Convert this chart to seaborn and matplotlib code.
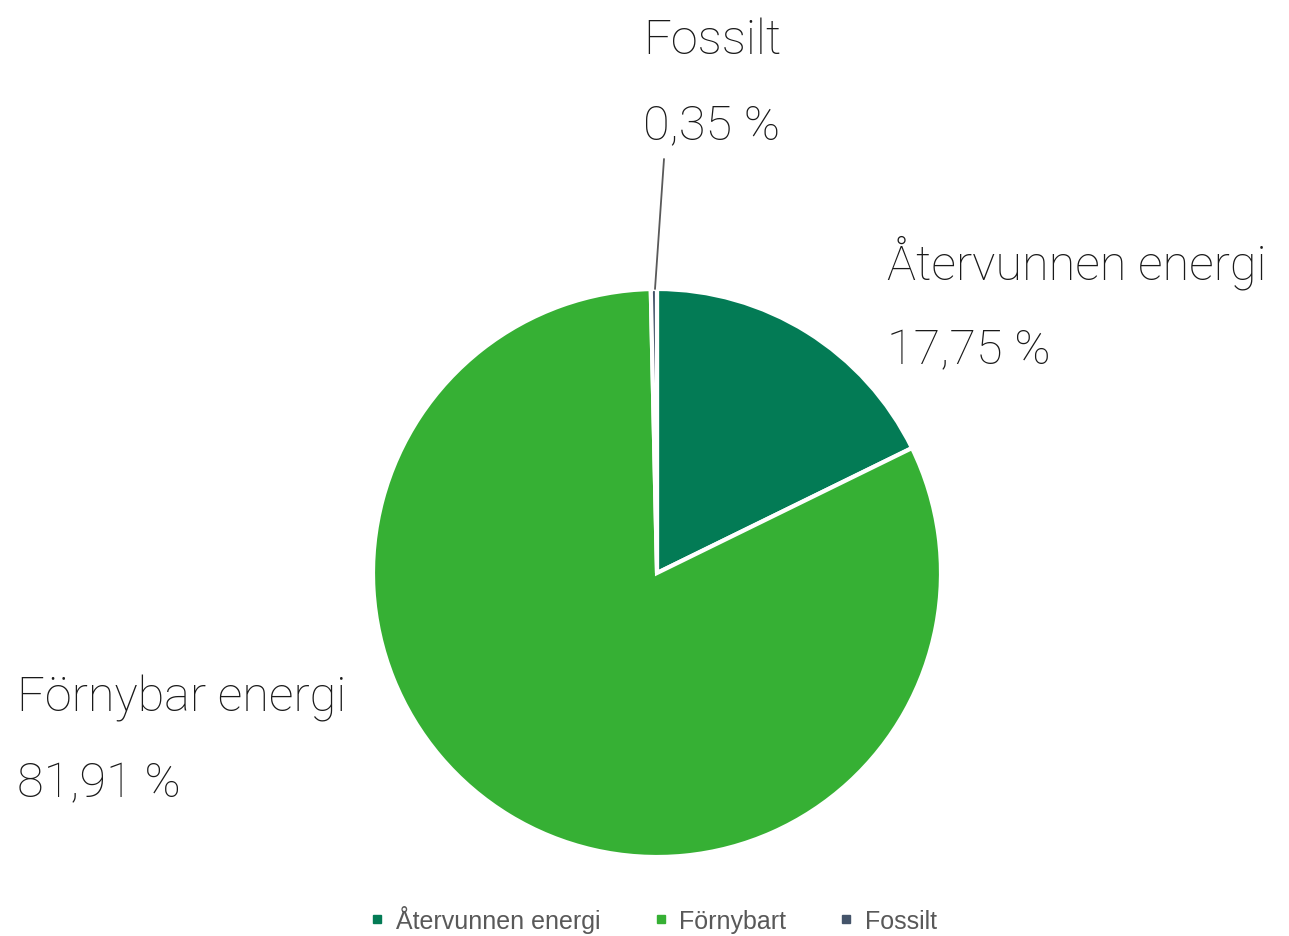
import matplotlib
matplotlib.use("Agg")
import matplotlib.pyplot as plt
from matplotlib.lines import Line2D
import seaborn as sns

categories = ["Återvunnen energi", "Förnybar energi", "Fossilt"]
legend_labels = ["Återvunnen energi", "Förnybart", "Fossilt"]
values = [17.75, 81.91, 0.35]
colors = ["#037B55", "#36B034", "#44546A"]

sns.set_theme(style="white")
plt.rcParams['font.family'] = ['Roboto', 'DejaVu Sans']

W, H = 1289, 937
fig = plt.figure(figsize=(W / 100, H / 100), dpi=100)
ax = fig.add_axes([0, 0, 1, 1])
cx, cy, R = 657, 574, 284

def px(x, y):
    return ((x - cx) / R, (H - y - (H - cy)) / R)

ax.pie(values, colors=colors, startangle=90, counterclock=False, radius=1,
       wedgeprops=dict(edgecolor="white", linewidth=3))
ax.set_xlim(-cx / R, (W - cx) / R)
ax.set_ylim(-(H - cy) / R, cy / R)
ax.set_aspect("auto")
ax.axis("off")

def fmt(v):
    return f"{v:.2f}".replace(".", ",") + " %"

label_pos = [(887, 279), (17, 712), (643, 54)]
for name, v, (x, y) in zip(categories, values, label_pos):
    tx, ty = px(x, y)
    ax.text(tx, ty, name, fontsize=35, color="#1a1a1a", ha="left", va="baseline",
            fontweight="light")
    tx2, ty2 = px(x, y + 85)
    ax.text(tx2, ty2, fmt(v), fontsize=35, color="#1a1a1a", ha="left", va="baseline",
            fontweight="light", fontstretch="condensed")

x0, y0 = px(664, 160)
x1, y1 = px(655, 290)
ax.plot([x0, x1], [y0, y1], color="#595959", lw=1.3)

handles = [Line2D([0], [0], marker="s", linestyle="", markersize=6,
                  markerfacecolor=c, markeredgecolor=c) for c in colors]
fig.legend(handles, legend_labels, loc="center", bbox_to_anchor=(0.505, 0.018),
           ncol=3, frameon=False, handletextpad=0.25, columnspacing=1.9,
           labelcolor="#595959", handlelength=1.0,
           prop=dict(family=["Liberation Sans", "DejaVu Sans"], size=18))

fig.savefig("out.png", dpi=100)
